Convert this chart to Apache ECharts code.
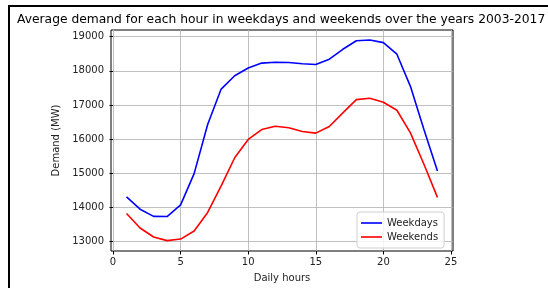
<!DOCTYPE html>
<html>
<head>
<meta charset="utf-8">
<script src="https://cdn.jsdelivr.net/npm/echarts@6/dist/echarts.min.js"></script>
<style>
  html, body { margin: 0; padding: 0; background: #fff; }
  #main { width: 548px; height: 288px; }
</style>
</head>
<body>
<div id="main"></div>
<script>
// hours of the day
var hours = [1,2,3,4,5,6,7,8,9,10,11,12,13,14,15,16,17,18,19,20,21,22,23,24];
// average demand (MW)
var weekdays = [14310,13950,13740,13735,14075,14990,16430,17465,17855,18080,18225,18250,18245,18205,18185,18340,18630,18880,18900,18825,18485,17545,16285,15065];
var weekends = [13825,13400,13135,13030,13075,13310,13855,14630,15455,15990,16280,16375,16335,16225,16175,16370,16770,17155,17195,17080,16845,16185,15265,14295];
var xTicks = [0,5,10,15,20,25];
var yTicks = [13000,14000,15000,16000,17000,18000,19000];

function pairs(ys){
	return hours.map(function(h,i){ return [h, ys[i]]; });
}

var font = 'DejaVu Sans';
var myChart = echarts.init(document.getElementById('main'));
var option = {
	animation: false,
	backgroundColor: '#fff',
	title: {
		text: 'Average demand for each hour in weekdays and weekends over the years 2003-2017',
		left: 17, top: 14, padding: 0,
		textStyle: { fontFamily: font, fontSize: 12.3, fontWeight: 'normal', color: '#000' }
	},
	legend: {
		data: ['Weekdays', 'Weekends'],
		orient: 'vertical',
		left: 357, top: 212,
		padding: [5, 6, 5, 4],
		itemGap: 2,
		icon: 'rect',
		itemWidth: 21, itemHeight: 1.6,
		borderColor: '#d0d0d0', borderWidth: 1, borderRadius: 3,
		backgroundColor: 'rgba(255,255,255,0.8)',
		textStyle: { fontFamily: font, fontSize: 10, color: '#222', lineHeight: 12 }
	},
	grid: {
		left: 111, right: 95, top: 30, bottom: 36,
		show: true, borderColor: '#000', borderWidth: 1
	},
	xAxis: {
		type: 'value',
		min: -0.15, max: 25.15,
		name: 'Daily hours',
		nameLocation: 'middle', nameGap: 22,
		nameTextStyle: { fontFamily: font, fontSize: 10, color: '#222' },
		axisLine: { show: false },
		axisTick: { show: true, length: 3.5, customValues: xTicks, lineStyle: { color: '#000' } },
		axisLabel: { customValues: xTicks, margin: 6, fontFamily: font, fontSize: 10, color: '#222' },
		splitLine: { show: true, lineStyle: { color: '#b0b0b0', width: 0.8 } }
	},
	yAxis: {
		type: 'value',
		min: 12726, max: 19194,
		name: 'Demand (MW)',
		nameLocation: 'middle', nameGap: 45,
		nameTextStyle: { fontFamily: font, fontSize: 10, color: '#222' },
		axisLine: { show: false },
		axisTick: { show: true, length: 3.5, customValues: yTicks, lineStyle: { color: '#000' } },
		axisLabel: {
			customValues: yTicks, margin: 7, fontFamily: font, fontSize: 10, color: '#222',
			formatter: function(v){ return String(v); }
		},
		splitLine: { show: true, lineStyle: { color: '#b0b0b0', width: 0.8 } }
	},
	series: [{
		name: 'Weekdays',
		type: 'line',
		data: pairs(weekdays),
		symbol: 'none',
		color: '#0000ff',
		lineStyle: { width: 1.6, color: '#0000ff' }
	}, {
		name: 'Weekends',
		type: 'line',
		data: pairs(weekends),
		symbol: 'none',
		color: '#ff0000',
		lineStyle: { width: 1.6, color: '#ff0000' }
	}],
	graphic: [
		{ type: 'rect', shape: { x: 8, y: 5, width: 2, height: 283 }, style: { fill: '#000' } },
		{ type: 'rect', shape: { x: 8, y: 5, width: 540, height: 2 }, style: { fill: '#000' } }
	]
};
myChart.setOption(option);
</script>
</body>
</html>
